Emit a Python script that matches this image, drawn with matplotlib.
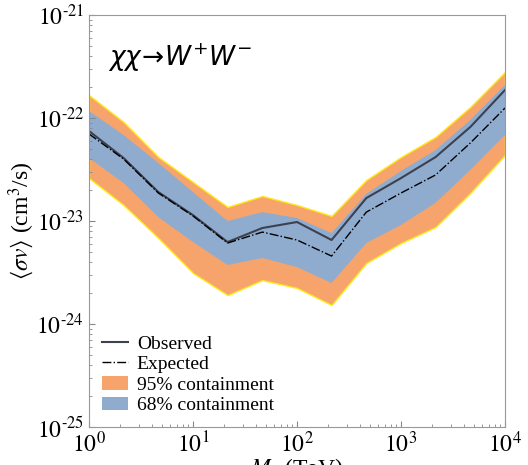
import numpy as np
import matplotlib
matplotlib.use("Agg")
import matplotlib.pyplot as plt
from matplotlib.patches import Patch
from matplotlib.lines import Line2D
from matplotlib.ticker import FuncFormatter, LogLocator, NullFormatter

plt.rcParams['font.family'] = 'Liberation Serif'
plt.rcParams['mathtext.fontset'] = 'stix'

# dark matter mass grid (TeV) and <sigma v> limits (cm^3/s)
mass = [1, 2.15, 4.64, 10, 21.5, 46.4, 100, 215, 464, 1000, 2150, 4640, 10000]
observed = [7.48e-23, 4.09e-23, 1.91e-23, 1.14e-23, 6.25e-24, 8.55e-24, 9.78e-24,
            6.54e-24, 1.67e-23, 2.61e-23, 4.18e-23, 8.18e-23, 1.87e-22]
expected = [7.00e-23, 4.00e-23, 1.87e-23, 1.12e-23, 6.11e-24, 7.81e-24, 6.54e-24,
            4.57e-24, 1.22e-23, 1.87e-23, 2.80e-23, 5.72e-23, 1.25e-22]
up68 = [1.17e-22, 6.84e-23, 3.66e-23, 1.91e-23, 1.00e-23, 1.22e-23, 1.07e-23,
        7.64e-24, 1.83e-23, 3.06e-23, 4.89e-23, 9.57e-23, 2.09e-22]
lo68 = [4.09e-23, 2.34e-23, 1.09e-23, 6.25e-24, 3.74e-24, 4.37e-24, 3.57e-24,
        2.50e-24, 6.11e-24, 9.14e-24, 1.50e-23, 3.13e-23, 6.84e-23]
up95 = [1.67e-22, 9.15e-23, 4.18e-23, 2.39e-23, 1.37e-23, 1.75e-23, 1.43e-23,
        1.12e-23, 2.50e-23, 4.18e-23, 6.55e-23, 1.28e-22, 2.80e-22]
lo95 = [2.61e-23, 1.43e-23, 6.84e-24, 3.13e-24, 1.91e-24, 2.67e-24, 2.24e-24,
        1.53e-24, 3.91e-24, 6.11e-24, 8.74e-24, 1.87e-23, 4.37e-23]

orange = '#f7a46c'
blue = '#8faccf'

fig = plt.figure(figsize=(5.28, 4.65), dpi=100)
ax = fig.add_axes([0.1686, 0.0817, 0.7878, 0.886])

ax.fill_between(mass, lo95, up95, facecolor=orange, edgecolor='#ffe81a', lw=1.0)
ax.fill_between(mass, lo68, up68, facecolor=blue, edgecolor='none')
ax.plot(mass, observed, color='#3b4150', lw=1.5)
ax.plot(mass, expected, color='black', lw=1.0, ls='-.')

ax.set_xscale('log')
ax.set_yscale('log')
ax.set_xlim(1, 1e4)
ax.set_ylim(1e-25, 1e-21)

def pow_label(v, pos):
    e = int(round(np.log10(v)))
    if e < 0:
        return r'$10^{\text{-}%d}$' % (-e)
    return r'$10^{%d}$' % e

ax.xaxis.set_major_formatter(FuncFormatter(pow_label))
ax.yaxis.set_major_formatter(FuncFormatter(pow_label))
ax.xaxis.set_minor_locator(LogLocator(base=10, subs=np.arange(2, 10), numticks=20))
ax.yaxis.set_minor_locator(LogLocator(base=10, subs=np.arange(2, 10), numticks=20))
ax.xaxis.set_minor_formatter(NullFormatter())
ax.yaxis.set_minor_formatter(NullFormatter())
ax.tick_params(which='both', direction='in', color='#888888', labelsize=17)
ax.tick_params(which='major', length=4)
ax.tick_params(which='minor', length=2)
for s in ax.spines.values():
    s.set_color('#999999')

ax.set_ylabel(r'$\langle\sigma v\rangle$ (cm$^3$/s)', fontsize=17, labelpad=0)
ax.set_xlabel(r'$M_\chi$ (TeV)', fontsize=17, labelpad=-1)

ax.text(0.045, 0.935, r'$\chi\chi\!\rightarrow\! W^{+}W^{-}$', transform=ax.transAxes,
        fontsize=19, math_fontfamily='dejavusans', va='top')

handles = [Line2D([], [], color='#3b4150', lw=1.5),
           Line2D([], [], color='black', lw=1.0, ls='-.'),
           Patch(facecolor=orange, edgecolor='none'),
           Patch(facecolor=blue, edgecolor='none')]
labels = ['Observed', 'Expected', '95% containment', '68% containment']
ax.legend(handles, labels, loc='lower left', bbox_to_anchor=(0.012, 0.012), borderaxespad=0,
          frameon=False, fontsize=14, handlelength=1.35, handletextpad=0.45,
          labelspacing=0.15)

fig.savefig('out.png', dpi=100)
